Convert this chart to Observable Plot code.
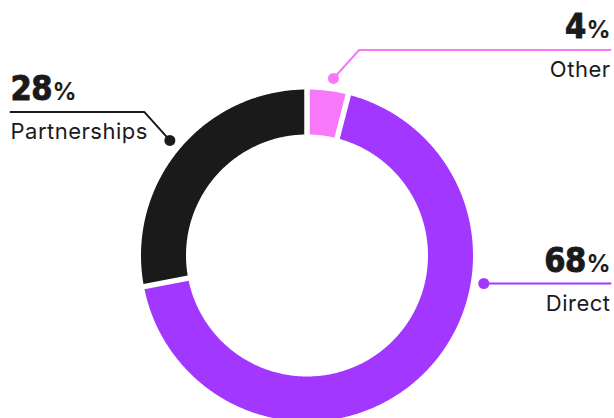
<!DOCTYPE html>
<html><head><meta charset="utf-8">
<script src="https://cdn.jsdelivr.net/npm/d3@7"></script>
<script src="https://cdn.jsdelivr.net/npm/@observablehq/plot@0.6"></script>
<style>html,body{margin:0;padding:0;background:#fff}#chart svg{display:block}</style>
</head><body><div id="chart"></div>
<script>
// ---- data ----
const categories = ["Other", "Direct", "Partnerships"];
const shares = [4, 68, 28];
const colors = ["#f779fa", "#a238ff", "#1a1a1a"];

// ---- layout ----
const W = 614, H = 418, cx = 306.5, cy = 255, R = 166, r = 121, gap = 5.5;
const labelAngle = {Other: 8.5, Direct: 99, Partnerships: 310}; // deg clockwise from 12 o'clock
const labelSide = {Other: "right", Direct: "right", Partnerships: "left"};
const labelRise = {Other: 28.5, Direct: 0, Partnerships: 28.5};
const dotDist = 179, edgeL = 10, edgeR = 610;

const total = d3.sum(shares);
let acc = 0;
const slices = categories.map((c, i) => {
  const a0 = acc / total * 360; acc += shares[i];
  return {name: c, value: shares[i], a0, a1: acc / total * 360};
});
const rad = d => d * Math.PI / 180;
const pt = (ang, rr) => ({x: cx + rr * Math.sin(rad(ang)), y: cy - rr * Math.cos(rad(ang))});

const polys = [];
for (const s of slices) {
  const dO = Math.asin(gap / 2 / R) * 180 / Math.PI, dI = Math.asin(gap / 2 / r) * 180 / Math.PI;
  const n = Math.max(4, Math.ceil(s.a1 - s.a0) * 2);
  for (let k = 0; k <= n; k++) { const a = s.a0 + dO + (s.a1 - s.a0 - 2 * dO) * k / n; polys.push({name: s.name, ...pt(a, R)}); }
  for (let k = n; k >= 0; k--) { const a = s.a0 + dI + (s.a1 - s.a0 - 2 * dI) * k / n; polys.push({name: s.name, ...pt(a, r)}); }
}

const leaders = [], dots = [], texts = [];
slices.forEach(s => {
  const d = pt(labelAngle[s.name], dotDist);
  const left = labelSide[s.name] === "left";
  const sx = left ? -1 : 1;
  const rise = labelRise[s.name];
  const ly = d.y - rise;
  const ex = left ? edgeL : edgeR;
  leaders.push({name: s.name, x: d.x, y: d.y}, {name: s.name, x: d.x + sx * rise * 0.9, y: ly}, {name: s.name, x: ex, y: ly});
  dots.push({name: s.name, ...d});
  texts.push({name: s.name, x: ex, yNum: ly - 12, yLab: ly + 27, left, pct: s.value});
});

const numOpts = {x: "x", y: "yNum", text: d => d.pct + "%", lineAnchor: "bottom", fontFamily: "DejaVu Sans Condensed", fontWeight: "bold", fontSize: 34, fill: "#1a1a1a", stroke: "#1a1a1a", strokeWidth: 0.9};
const labOpts = {x: "x", y: "yLab", text: "name", lineAnchor: "bottom", fontFamily: "Inter", fontSize: 22, fill: "#1a1a1a"};

const chart = Plot.plot({
  width: W, height: H, margin: 0,
  x: {domain: [0, W], range: [0, W], axis: null},
  y: {domain: [0, H], range: [0, H], axis: null},
  color: {domain: categories, range: colors},
  style: {background: "#fff"},
  marks: [
    Plot.line(polys, {x: "x", y: "y", z: "name", fill: "name", stroke: "none", curve: "linear-closed"}),
    Plot.line(leaders, {x: "x", y: "y", z: "name", stroke: "name", strokeWidth: 2}),
    Plot.dot(dots, {x: "x", y: "y", r: 5.5, fill: "name", stroke: "none"}),
    Plot.text(texts, {...numOpts, filter: d => d.left, textAnchor: "start"}),
    Plot.text(texts, {...numOpts, filter: d => !d.left, textAnchor: "end"}),
    Plot.text(texts, {...labOpts, filter: d => d.left, textAnchor: "start"}),
    Plot.text(texts, {...labOpts, filter: d => !d.left, textAnchor: "end"})
  ]
});

d3.select(chart).selectAll("text").each(function () {
  const txt = this.textContent;
  const m = txt.match(/^(\d+)(%)$/);
  if (m) {
    const t = d3.select(this);
    t.selectAll("*").remove();
    this.textContent = "";
    t.append("tspan").attr("letter-spacing", -0.5).text(m[1]);
    t.append("tspan").attr("font-family", "Inter").attr("font-size", 24).attr("font-weight", 600)
      .attr("letter-spacing", 0).attr("stroke-width", 0.2).attr("dx", 0.5).text("%");
  } else if (categories.includes(txt)) {
    this.setAttribute("letter-spacing", "0.5");
  }
});
document.getElementById("chart").appendChild(chart);
</script>
</body></html>
